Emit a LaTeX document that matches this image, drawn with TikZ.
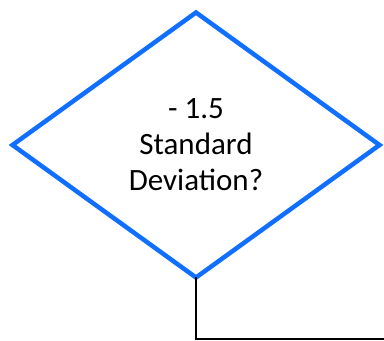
\documentclass[tikz,border=0pt]{standalone}
\usepackage{fontspec}
\setmainfont{Carlito}
\usepackage{xcolor}
\usepackage{tikz}
\usetikzlibrary{shapes.geometric}
\definecolor{decisionblue}{RGB}{17,111,255}

\begin{document}
\begin{tikzpicture}[x=1pt, y=1pt]
        \useasboundingbox (0,0) rectangle (384,341);
        \node[draw=decisionblue, diamond, line width=4.5pt, minimum width=367pt, minimum height=265pt, inner sep=0pt, outer sep=0pt, align=center, font=\fontsize{31}{36}\selectfont] (decision) at (196,196) {- 1.5\\Standard\\Deviation?};
        \coordinate (exit) at (384,2);
        
        \draw[line width=2.2pt] (decision.south) |- (exit);
    \end{tikzpicture}
\end{document}
